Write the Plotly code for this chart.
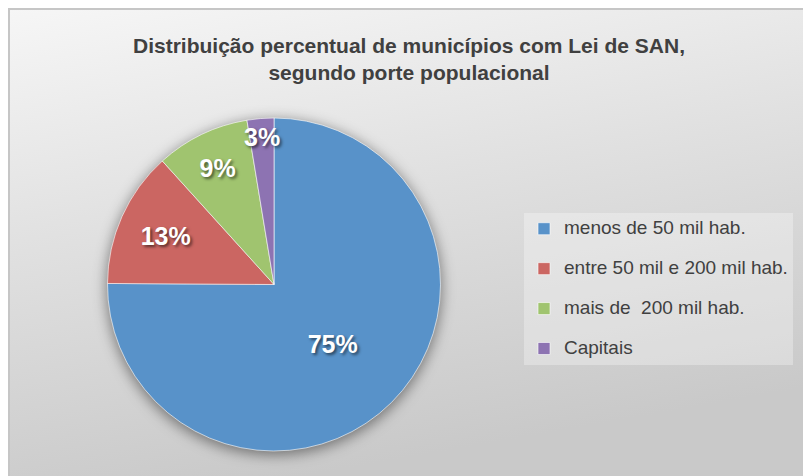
import base64
import math
import plotly.graph_objects as go

# dados do gráfico
categorias = ["menos de 50 mil hab.", "entre 50 mil e 200 mil hab.", "mais de  200 mil hab.", "Capitais"]
percentuais = [75.1, 13.2, 9.1, 2.6]
cores = ["#5892C9", "#CB6662", "#A0C46F", "#8D73B2"]
titulo = "Distribuição percentual de municípios com Lei de SAN,<br>segundo porte populacional"

W, H = 811, 476
# pizza: centro e raio em pixels da figura
cx, cy, r = 266, 276.5, 166.5

# fundo em degradê + sombra da pizza (imagem svg embutida)
svg = f"""<svg xmlns='http://www.w3.org/2000/svg' width='{W}' height='{H}' viewBox='0 0 {W} {H}'>
<defs>
<linearGradient id='g' x1='0' y1='0' x2='0.3' y2='1'>
<stop offset='0' stop-color='#f6f6f6'/>
<stop offset='0.45' stop-color='#e1e1e1'/>
<stop offset='1' stop-color='#c9c9c9'/>
</linearGradient>
<filter id='b' x='-30%' y='-30%' width='160%' height='160%'><feGaussianBlur stdDeviation='7'/></filter>
</defs>
<rect x='0' y='0' width='{W}' height='{H}' fill='white'/>
<rect x='1' y='1' width='{W}' height='{H}' fill='url(#g)' stroke='#c6c6c6' stroke-width='2'/>
<circle cx='{cx}' cy='{cy + 3}' r='{r + 1}' fill='black' fill-opacity='0.45' filter='url(#b)'/>
</svg>"""
bg_uri = "data:image/svg+xml;base64," + base64.b64encode(svg.encode("utf-8")).decode()

# linha extra em branco para espaçar os itens da legenda (menos no último)
legend_labels = [f"<span style='font-size:19px'>{c}</span>" + ("<br> " if i < len(categorias) - 1 else "")
                 for i, c in enumerate(categorias)]
rotulo_font = dict(family="Liberation Sans, Arial", size=25, color="white",
                   weight="bold", shadow="2px 2px 3px rgba(0,0,0,0.55)")

# fatias pequenas: rótulo como anotação (o plotly encolheria o texto)
total = sum(percentuais)
posicoes = ["inside"] * len(percentuais)
anotacoes = []
acum = 0
for i, v in enumerate(percentuais):
    frac = v / total
    if frac < 0.05:
        posicoes[i] = "none"
        ang = 2 * math.pi * (acum + frac / 2)
        px_ = cx + 0.89 * r * math.sin(ang)
        py_ = cy - 0.89 * r * math.cos(ang)
        anotacoes.append(dict(text=f"{round(frac * 100)}%", x=px_ / W, y=1 - py_ / H,
                              xref="paper", yref="paper", xanchor="center", yanchor="middle",
                              showarrow=False, font=rotulo_font))
    acum += frac

fig = go.Figure(go.Pie(
    labels=legend_labels,
    values=percentuais,
    sort=False,
    direction="clockwise",
    rotation=0,
    marker=dict(colors=cores, line=dict(color="rgba(255,255,255,0.6)", width=1)),
    texttemplate="%{percent:.0%}",
    textposition=posicoes,
    insidetextorientation="horizontal",
    textfont=rotulo_font,
    domain=dict(x=[(cx - r) / W, (cx + r) / W], y=[1 - (cy + r) / H, 1 - (cy - r) / H]),
    hoverinfo="skip",
))

fig.update_layout(
    width=W, height=H,
    margin=dict(l=0, r=0, t=0, b=0),
    paper_bgcolor="white",
    font=dict(family="Liberation Sans, Arial", color="#404040"),
    title=dict(text=titulo, x=401 / W, xanchor="center", y=1 - 45 / H, yanchor="middle",
               font=dict(size=21, weight="bold", color="#404040")),
    legend=dict(x=516 / W, xanchor="left", y=1 - 205 / H, yanchor="top",
                bgcolor="rgba(255,255,255,0.3)", font=dict(size=14.2, color="#404040"),
                valign="top", itemclick=False),
    annotations=anotacoes,
    images=[dict(source=bg_uri, xref="paper", yref="paper", x=0, y=1, sizex=1, sizey=1,
                 xanchor="left", yanchor="top", sizing="stretch", layer="below")],
)

fig.write_html("out.html")
